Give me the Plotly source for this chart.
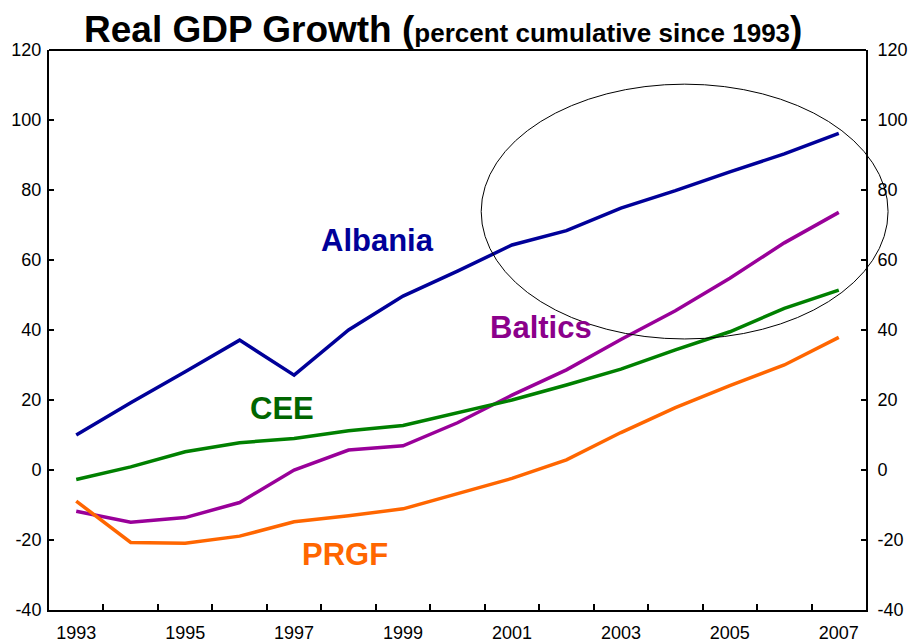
import plotly.graph_objects as go

years = list(range(1993, 2008))
albania = [10.0, 19.2, 28.1, 37.1, 27.1, 40.0, 49.7, 56.8, 64.3, 68.4, 74.8, 79.8, 85.2, 90.3, 96.2]
baltics = [-11.8, -14.9, -13.6, -9.3, 0.0, 5.7, 6.9, 13.5, 21.4, 28.6, 37.3, 45.5, 54.8, 64.9, 73.6]
cee = [-2.7, 0.9, 5.2, 7.8, 9.0, 11.2, 12.7, 16.3, 20.0, 24.3, 28.8, 34.3, 39.5, 46.2, 51.4]
prgf = [-8.9, -20.7, -20.9, -18.9, -14.8, -13.1, -11.1, -6.7, -2.4, 2.9, 10.7, 17.8, 24.1, 30.0, 37.9]

x_labels = [str(y) for y in range(1993, 2008, 2)]
y_ticks = list(range(-40, 121, 20))
y_labels = [str(v) for v in y_ticks]

series = [
    ("Albania", albania, "#000099"),
    ("Baltics", baltics, "#990099"),
    ("CEE", cee, "#008000"),
    ("PRGF", prgf, "#FF6600"),
]

fig = go.Figure()
for name, vals, col in series:
    fig.add_trace(go.Scatter(x=years, y=vals, mode="lines", name=name,
                             line=dict(color=col, width=3.5)))

# invisible trace to activate the secondary axes
fig.add_trace(go.Scatter(x=[years[0]], y=[0], xaxis="x2", yaxis="y2",
                         mode="markers", marker=dict(opacity=0),
                         showlegend=False, hoverinfo="skip"))

font_main = "Liberation Sans, Arial, sans-serif"

fig.update_layout(
    width=908, height=643,
    margin=dict(l=49, r=42, t=50, b=33),
    paper_bgcolor="white", plot_bgcolor="white",
    showlegend=False,
    font=dict(family=font_main, size=18, color="black"),
    xaxis=dict(range=[1992.5, 2007.5], tickvals=[int(v) for v in x_labels],
               ticktext=x_labels, ticks="", showgrid=False, zeroline=False,
               showline=True, linecolor="black", linewidth=2, automargin=False,
               tickfont=dict(size=18), ticklabelstandoff=5),
    xaxis2=dict(range=[1992.5, 2007.5], overlaying="x", side="bottom",
                tickvals=[y + 0.5 for y in years[:-1]], showticklabels=False,
                ticks="inside", ticklen=6, tickwidth=1.5, tickcolor="black",
                showgrid=False, zeroline=False, showline=False, automargin=False),
    yaxis=dict(range=[-40, 120], tickvals=y_ticks, ticktext=y_labels,
               ticks="inside", ticklen=5, automargin=False,
               tickwidth=1.5, tickcolor="black", showgrid=False, zeroline=False,
               showline=True, linecolor="black", linewidth=2,
               tickfont=dict(size=18), ticklabelstandoff=2),
    yaxis2=dict(range=[-40, 120], tickvals=y_ticks, ticktext=y_labels,
                overlaying="y", side="right", automargin=False,
                ticks="inside", ticklen=5, tickwidth=1.5, tickcolor="black",
                showgrid=False, zeroline=False, showline=True, linecolor="black",
                linewidth=2, tickfont=dict(size=18), ticklabelstandoff=6),
)

# top frame line
fig.add_shape(type="line", xref="paper", yref="paper", x0=0, x1=1, y0=1, y1=1,
              line=dict(color="black", width=2))

# ellipse highlight
fig.add_shape(type="circle", xref="paper", yref="paper",
              x0=0.529, x1=1.027, y0=0.484, y1=0.939,
              line=dict(color="black", width=1), layer="above")

# title
fig.add_annotation(
    xref="paper", yref="paper", x=0.482, y=1.0, yanchor="bottom", xanchor="center",
    yshift=-2, showarrow=False,
    text=("<b><span style='font-size:37px'>Real GDP Growth (</span>"
          "<span style='font-size:26px'>percent cumulative since 1993</span>"
          "<span style='font-size:37px'>)</span></b>"),
    font=dict(family=font_main, color="black"))

labels = [
    ("Albania", 1998.54, 65.7, "#000099"),
    ("CEE", 1996.77, 17.7, "#006600"),
    ("Baltics", 2001.54, 40.6, "#8B008B"),
    ("PRGF", 1997.93, -24.0, "#FF6600"),
]
for txt, lx, ly, col in labels:
    fig.add_annotation(x=lx, y=ly, text=f"<b>{txt}</b>", showarrow=False,
                       font=dict(family=font_main, size=31, color=col))

fig.write_html(
    "out.html",
    config={"displayModeBar": False},
    post_script="document.body.style.margin='0';document.body.style.overflow='hidden';",
)
